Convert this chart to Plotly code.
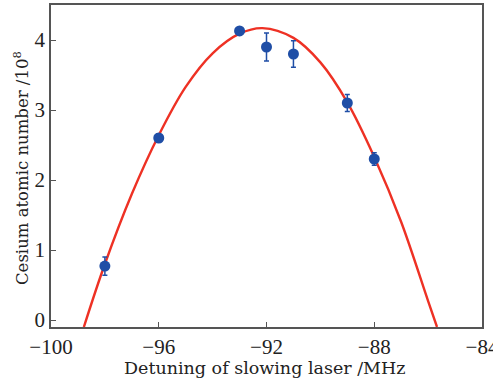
import plotly.graph_objects as go

# measured data
detuning = [-98, -96, -93, -92, -91, -89, -88]
atom_number = [0.77, 2.60, 4.13, 3.90, 3.80, 3.10, 2.30]
atom_err = [0.13, 0.06, 0.03, 0.20, 0.19, 0.12, 0.09]

# fitted curve
fit_x = [-98.78, -98, -97, -96, -95, -94, -93, -92.15, -91, -90, -89, -88, -87, -86, -85.67]
fit_y = [-0.10, 0.80, 1.80, 2.64, 3.33, 3.81, 4.09, 4.17, 4.03, 3.68, 3.11, 2.33, 1.40, 0.27, -0.10]

x_ticks = [-100, -96, -92, -88, -84]
y_ticks = [0, 1, 2, 3, 4]

W, H = 493, 381
ml, mr, mt, mb = 51, 11, 5, 54
TICK_FONT = "Liberation Serif"
TITLE_FONT = "DejaVu Serif"
INK = "#222222"

fig = go.Figure()
fig.add_trace(go.Scatter(x=fit_x, y=fit_y, mode="lines",
                         line=dict(color="#ee3124", width=2.4, shape="spline", smoothing=1.0),
                         hoverinfo="skip", showlegend=False))
fig.add_trace(go.Scatter(x=detuning, y=atom_number, mode="markers",
                         marker=dict(color="#1f4ea6", size=11),
                         error_y=dict(type="data", array=atom_err, color="#1f4ea6",
                                      thickness=1.5, width=2.5),
                         showlegend=False))

axis_common = dict(showgrid=False, zeroline=False, showline=True, linecolor="#555555",
                   linewidth=1.5, mirror=True, ticks="inside", ticklen=5, tickwidth=1.2,
                   tickcolor="#555555", ticklabeloverflow="allow", automargin=False,
                   tickfont=dict(family=TICK_FONT, size=21, color=INK))

plot_w = W - ml - mr
plot_h = H - mt - mb

fig.update_xaxes(range=[-100, -84], tickvals=x_ticks, **axis_common)
fig.update_yaxes(range=[-0.1, 4.5], tickvals=y_ticks, **axis_common)

fig.add_annotation(text="Detuning of slowing laser /MHz",
                   xref="paper", yref="paper", x=(265 - ml) / plot_w,
                   y=(H - mb - 368) / plot_h, xanchor="center", yanchor="middle",
                   showarrow=False, font=dict(family=TITLE_FONT, size=17.5, color=INK))
fig.add_annotation(text="Cesium atomic number /10<sup>8</sup>", textangle=-90,
                   xref="paper", yref="paper", x=(21 - ml) / plot_w,
                   y=(H - mb - 168) / plot_h, xanchor="center", yanchor="middle",
                   showarrow=False, font=dict(family=TITLE_FONT, size=16.5, color=INK))

fig.update_layout(width=W, height=H, margin=dict(l=ml, r=mr, t=mt, b=mb),
                  plot_bgcolor="white", paper_bgcolor="white")

fig.write_html("out.html")
